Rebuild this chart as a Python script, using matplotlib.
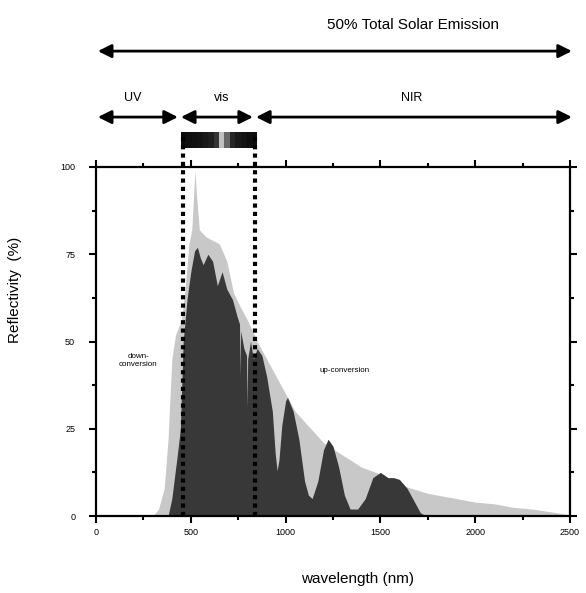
import numpy as np
from matplotlib import pyplot as plt
from matplotlib.patches import FancyArrowPatch

plt.rcParams['font.family'] = ['Liberation Sans', 'DejaVu Sans']

# solar spectrum envelope (light grey), wavelength in nm / reflectivity in %
sun_nm = [300, 330, 360, 380, 400, 420, 450, 470, 490, 505, 515, 522, 530, 545,
          580, 650, 690, 725, 760, 800, 850, 900, 950, 1000, 1050, 1100, 1200,
          1300, 1400, 1500, 1600, 1750, 1900, 2000, 2100, 2200, 2300, 2400, 2480, 2500]
sun_val = [0, 2, 8, 22, 45, 52, 56, 65, 78, 82, 92, 99, 92, 82,
           80, 78, 73, 64, 60, 56, 50, 45, 40, 35, 30, 27, 21,
           17.5, 14, 12, 9, 6.5, 5, 4, 3.5, 2.5, 2, 1.2, 0.5, 0]

# sample reflectivity (dark)
refl_nm = [380, 400, 430, 445, 460, 480, 500, 520, 535, 550, 565, 590, 615, 640,
           665, 690, 720, 745, 757, 760, 763, 780, 794, 797, 800, 815, 830, 850,
           875, 900, 930, 945, 955, 965, 980, 1000, 1010, 1040, 1070, 1100, 1120,
           1140, 1170, 1200, 1224, 1250, 1280, 1310, 1340, 1380, 1420, 1460, 1500,
           1540, 1570, 1600, 1640, 1680, 1710, 1740]
refl_val = [0, 5, 18, 25, 50, 62, 70, 76, 77, 74, 72, 75, 73, 66,
            70, 65, 62, 57, 55, 40, 53, 48, 46, 31, 45, 50, 45, 48,
            46, 40, 30, 18, 13, 16, 26, 33, 34, 30, 22, 10, 6,
            5, 10, 19, 22, 20, 14, 6, 2, 2, 5, 11, 12.5,
            11, 11, 10.5, 8, 4, 1, 0]

# spectral colour strip shades (0 = black, 1 = white)
strip_shades = [0.05, 0.06, 0.07, 0.08, 0.1, 0.12, 0.2, 0.75, 0.4, 0.15, 0.1, 0.08, 0.06, 0.05]

xticks = [0, 500, 1000, 1500, 2000, 2500]
yticks = [0, 25, 50, 75, 100]
vis_edges = [460, 840]

fig = plt.figure(figsize=(5.86, 5.93), dpi=100)
ax = fig.add_axes([0.1638, 0.1298, 0.8089, 0.5886])

ax.fill_between(sun_nm, sun_val, color='#c8c8c8', lw=0)
ax.fill_between(refl_nm, refl_val, color='#383838', lw=0)

ax.set_xlim(0, 2500)
ax.set_ylim(0, 100)
ax.set_xticks(xticks)
ax.set_yticks(yticks)
ax.set_xticks(np.arange(250, 2500, 500), minor=True)
ax.set_yticks(np.arange(12.5, 100, 25), minor=True)
ax.tick_params(which='both', direction='out', top=True, right=True,
               labeltop=False, labelright=False, width=1.5, labelsize=6.5)
ax.tick_params(which='major', length=5)
ax.tick_params(which='minor', length=3)
ax.tick_params(axis='y', pad=10)
for s in ax.spines.values():
    s.set_linewidth(1.6)

ax.set_xlabel('wavelength (nm)', fontsize=11)
ax.xaxis.set_label_coords(0.551, -0.16)
ax.set_ylabel('Reflectivity  (%)', fontsize=11)
ax.yaxis.set_label_coords(-0.156, 0.648)

ax.text(222, 44.7, 'down-\nconversion', fontsize=5.8, ha='center', va='center')
ax.text(1313, 41.8, 'up-conversion', fontsize=5.8, ha='center', va='center')

tr = ax.get_xaxis_transform()

# dotted lines marking the visible range
for xv in vis_edges:
    ax.plot([xv, xv], [0, 1.097], transform=tr, color='black', lw=3,
            ls=(0, (1, 1)), clip_on=False)

# spectral strip
ax.imshow([strip_shades], cmap='gray', vmin=0, vmax=1, aspect='auto',
          extent=(448, 844, 1.054, 1.097), transform=tr, clip_on=False)
ax.set_xlim(0, 2500)
ax.set_ylim(0, 100)


def arrow(x0, x1, y):
    a = FancyArrowPatch((x0, y), (x1, y), transform=tr, arrowstyle='<|-|>',
                        mutation_scale=20, lw=2, color='black', clip_on=False,
                        shrinkA=0, shrinkB=0)
    ax.add_patch(a)


arrow(10, 2510, 1.332)
arrow(10, 432, 1.143)
arrow(448, 828, 1.143)
arrow(844, 2510, 1.143)

ax.text(1672, 1.407, '50% Total Solar Emission', transform=tr, fontsize=11,
        ha='center', va='center')
ax.text(195, 1.198, 'UV', transform=tr, fontsize=9, ha='center', va='center')
ax.text(665, 1.198, 'vis', transform=tr, fontsize=9, ha='center', va='center')
ax.text(1667, 1.198, 'NIR', transform=tr, fontsize=9, ha='center', va='center')

fig.savefig('out.png', dpi=100)
